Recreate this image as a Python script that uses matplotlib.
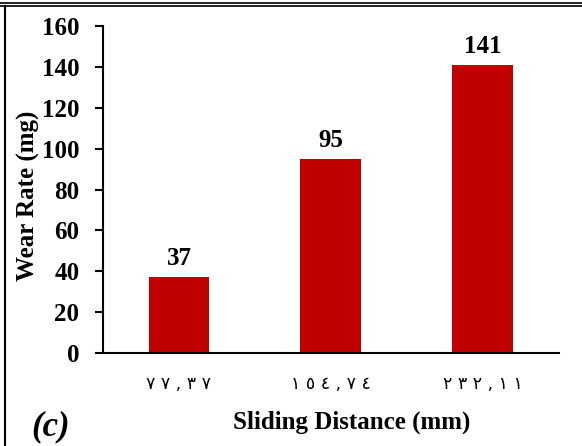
import matplotlib.pyplot as plt
from matplotlib.lines import Line2D

distances = ['٧٧,٣٧', '١٥٤,٧٤', '٢٣٢,١١']
wear_rate = [37, 95, 141]

fig = plt.figure(figsize=(5.82, 4.46), dpi=100)
ax = fig.add_axes([0.177, 0.2085, 0.783, 0.7332])

x = range(len(distances))
ax.bar(x, wear_rate, width=0.4, color='#C00000')
for i, v in zip(x, wear_rate):
    ax.annotate(str(v), (i, v), xytext=(0, 5), textcoords='offset points',
                ha='center', va='bottom', fontsize=18, fontweight='bold',
                family='Liberation Serif')

ax.set_xlim(-0.5, 2.5)
ax.set_ylim(0, 160)
ax.set_yticks(range(0, 161, 20))
ax.set_xticks(list(x))
# the arabic digits are spread out in the original
ax.set_xticklabels([' '.join(d) for d in distances], family='DejaVu Sans',
                   fontsize=12.5)
ax.tick_params(axis='x', length=0, pad=16)
ax.tick_params(axis='y', length=6, width=1.5, direction='out', pad=11)
for lab in ax.get_yticklabels():
    lab.set_family('Liberation Serif')
    lab.set_fontweight('bold')
    lab.set_fontsize(18)

for s in ['top', 'right']:
    ax.spines[s].set_visible(False)
ax.spines['left'].set_linewidth(1.5)
ax.spines['bottom'].set_linewidth(1.5)

ax.set_ylabel('Wear Rate (mg)', family='Liberation Serif', fontweight='bold', fontsize=18)
ax.yaxis.set_label_coords(-0.138, 0.48)
ax.set_xlabel('Sliding Distance (mm)', family='Liberation Serif', fontweight='bold', fontsize=18)
ax.xaxis.set_label_coords(0.546, -0.177)

fig.text(0.053, 0.025, '(c)', family='Liberation Serif', fontweight='bold',
         style='italic', fontsize=25)

# frame around the panel
fig.add_artist(Line2D([0, 1], [1 - 2.5/446, 1 - 2.5/446], transform=fig.transFigure, color='black', lw=1.2))
fig.add_artist(Line2D([0, 1], [1 - 5.5/446, 1 - 5.5/446], transform=fig.transFigure, color='black', lw=1.2))
fig.add_artist(Line2D([5/582, 5/582], [0, 1 - 5.5/446], transform=fig.transFigure, color='black', lw=1.5))

fig.savefig('out.png', dpi=100)
